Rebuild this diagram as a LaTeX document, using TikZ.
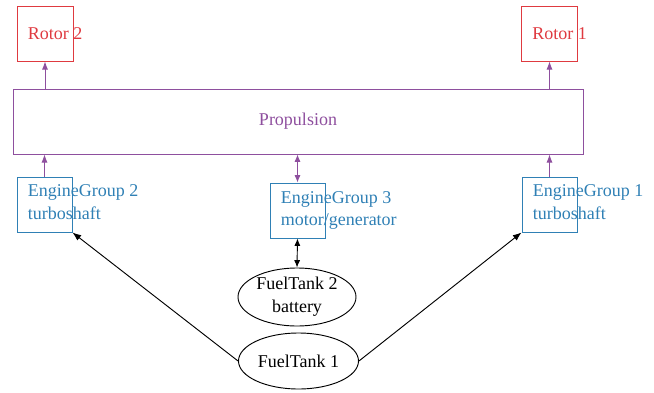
\documentclass[tikz,border=0pt]{standalone}
\usepackage{fontspec}
\setmainfont{Liberation Serif}
\usetikzlibrary{arrows.meta,shapes.geometric}
\definecolor{rotorred}{HTML}{DF3A40}
\definecolor{proppurple}{HTML}{8E4F9E}
\definecolor{engblue}{HTML}{2F80B5}
\begin{document}
\begin{tikzpicture}[x=0.75pt,y=-0.75pt,
  every node/.style={font=\fontsize{13.5}{17}\selectfont},
  rotorbox/.style={draw=rotorred, line width=0.75pt, inner sep=0pt, minimum width=42pt, minimum height=41.25pt},
  engbox/.style={draw=engblue, line width=0.75pt, inner sep=0pt, minimum width=41.25pt, minimum height=41.25pt},
  propbox/.style={draw=proppurple, line width=0.75pt, inner sep=0pt, minimum width=427.5pt, minimum height=48.75pt, text=proppurple},
  tank/.style={draw, ellipse, line width=0.7pt, inner sep=0pt, align=center},
  rotortext/.style={anchor=west, text=rotorred, inner sep=0pt},
  engtext/.style={anchor=west, text=engblue, inner sep=0pt, align=left},
  parrow/.style={draw=proppurple, line width=0.7pt, -{Latex[length=6pt,width=4.5pt]}},
  pdarrow/.style={draw=proppurple, line width=0.7pt, {Latex[length=5.5pt,width=4.5pt]}-{Latex[length=5.5pt,width=4.5pt]}},
  farrow/.style={draw=black, line width=0.7pt, -{Latex[length=6.5pt,width=5pt]}},
  fdarrow/.style={draw=black, line width=0.7pt, {Latex[length=5.5pt,width=4.5pt]}-{Latex[length=5.5pt,width=4.5pt]}}
]
\useasboundingbox (0,0) rectangle (654,393);

\node[rotorbox] (rotor2) at (45,33.5) {};
\node[rotorbox] (rotor1) at (549.5,33.5) {};
\node[rotortext] (rotor2t) at ([xshift=8.25pt]rotor2.west) {Rotor 2};
\node[rotortext] (rotor1t) at ([xshift=8.25pt]rotor1.west) {Rotor 1};

\node[propbox] (prop) at (298,121.5) {Propulsion};

\node[engbox] (eg2) at (44.5,204.5) {};
\node[engbox] (eg3) at (297.5,210.5) {};
\node[engbox] (eg1) at (549.5,204.5) {};
\node[engtext] (eg2t) at ([xshift=8.25pt,yshift=2pt]eg2.west) {EngineGroup 2\\turboshaft};
\node[engtext] (eg3t) at ([xshift=8.25pt]eg3.west) {EngineGroup 3\\motor/generator};
\node[engtext] (eg1t) at ([xshift=8.25pt,yshift=2pt]eg1.west) {EngineGroup 1\\turboshaft};

\node[tank, minimum width=88.5pt, minimum height=43.5pt] (ft2) at (297,297) {FuelTank 2\\battery};
\node[tank, minimum width=90pt, minimum height=42pt] (ft1) at (298.5,361) {FuelTank 1};

\draw[parrow] (prop.north -| rotor2.south) -- (rotor2.south);
\draw[parrow] (prop.north -| rotor1.south) -- (rotor1.south);
\draw[parrow] (eg2.north) -- (eg2.north |- prop.south);
\draw[parrow] (eg1.north) -- (eg1.north |- prop.south);
\draw[pdarrow] (prop.south -| eg3.north) -- (eg3.north);
\draw[fdarrow] (eg3.south) -- (ft2.north);
\draw[farrow] (ft1.west) -- (eg2.south east);
\draw[farrow] (ft1.east) -- (eg1.south west);
\end{tikzpicture}
\end{document}
